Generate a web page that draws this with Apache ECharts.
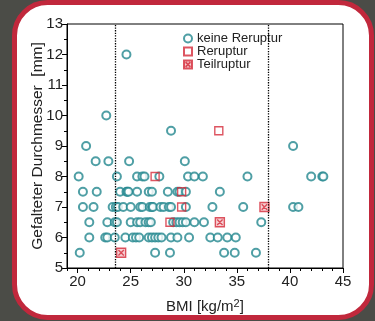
<!DOCTYPE html>
<html>
<head>
<meta charset="utf-8">
<script src="https://cdn.jsdelivr.net/npm/echarts@6/dist/echarts.min.js"></script>
<style>
    html, body { margin: 0; padding: 0; background: #4b4c47; }
    #chart { width: 375px; height: 321px; }
</style>
</head>
<body>
<div id="chart"></div>
<script>
// keine Reruptur (circles): BMI and diameter
var keineBMI = [
    24.6,
    22.7,
    28.8,
    20.8, 40.3,
    21.7, 22.9, 24.85, 30.1,
    20.1, 23.7, 25.6, 26.1, 26.3, 27.7, 30.4, 31.0, 31.8, 36.0, 42.0, 43.05, 43.15,
    20.5, 21.8, 24.0, 24.6, 24.7, 24.8, 25.6, 26.7, 27.0, 28.5, 29.4, 29.6, 30.2, 33.4,
    20.5, 21.5, 23.3, 23.6, 23.8, 24.3, 25.0, 25.9, 26.1, 26.8, 27.0, 27.1, 27.8, 28.1, 28.6, 28.8, 30.2, 32.7, 35.6, 40.3, 40.8,
    21.1, 22.8, 23.5, 23.7, 25.0, 25.6, 25.9, 26.4, 26.7, 26.9, 29.0, 29.3, 29.6, 29.9, 30.2, 31.0, 31.9, 37.3,
    21.1, 22.6, 22.8, 23.5, 24.5, 25.2, 25.5, 25.8, 26.7, 27.0, 27.3, 27.6, 27.9, 28.8, 29.4, 30.5, 32.5, 33.2, 34.1, 34.9,
    20.2, 27.3, 28.7, 33.8, 34.8, 36.8
];
var keineDurch = [
    12,
    10,
    9.5,
    9, 9,
    8.5, 8.5, 8.5, 8.5,
    8, 8, 8, 8, 8, 8, 8, 8, 8, 8, 8, 8, 8,
    7.5, 7.5, 7.5, 7.5, 7.5, 7.5, 7.5, 7.5, 7.5, 7.5, 7.5, 7.5, 7.5, 7.5,
    7, 7, 7, 7, 7, 7, 7, 7, 7, 7, 7, 7, 7, 7, 7, 7, 7, 7, 7, 7, 7,
    6.5, 6.5, 6.5, 6.5, 6.5, 6.5, 6.5, 6.5, 6.5, 6.5, 6.5, 6.5, 6.5, 6.5, 6.5, 6.5, 6.5, 6.5,
    6, 6, 6, 6, 6, 6, 6, 6, 6, 6, 6, 6, 6, 6, 6, 6, 6, 6, 6, 6,
    5.5, 5.5, 5.5, 5.5, 5.5, 5.5
];
// Reruptur (squares)
var rerupBMI = [33.3, 27.3, 29.8, 29.8, 28.7];
var rerupDurch = [9.5, 8, 7.5, 7, 6.5];
// Teilruptur (crossed squares)
var teilBMI = [37.6, 33.4, 24.1];
var teilDurch = [7, 6.5, 5.5];

var xTicks = [20, 25, 30, 35, 40, 45];
var bmiGrenzen = [23.5, 38];

function pairs(xs, ys) {
    return xs.map(function (x, i) { return [x, ys[i]]; });
}

var teal = '#23878f';
var red = '#d42a3a';
var crossBox = 'path://M0,0H10V10H0Z M2,2L8,8 M8,2L2,8';
var font = '"Liberation Sans", Arial, sans-serif';

var myChart = echarts.init(document.getElementById('chart'));
var option = {
    backgroundColor: '#4b4c47',
    animation: false,
    textStyle: { fontFamily: font },
    graphic: [
        {
            type: 'rect',
            z: -10,
            shape: { x: 14.5, y: 2.5, width: 357, height: 315, r: 33 },
            style: { fill: '#fff', stroke: '#c1283c', lineWidth: 5 }
        }
    ],
    grid: {
        left: 67,
        right: 32,
        top: 24,
        bottom: 53,
        show: true,
        borderColor: '#000',
        borderWidth: 1,
        backgroundColor: 'transparent'
    },
    legend: {
        orient: 'vertical',
        left: 183,
        top: 32,
        padding: 0,
        itemWidth: 8,
        itemHeight: 8,
        itemGap: 0,
        textStyle: { fontSize: 13, lineHeight: 12.5, color: '#222', fontFamily: font },
        data: [
            { name: 'keine Reruptur', icon: 'emptyCircle' },
            { name: 'Reruptur', icon: 'rect' },
            { name: 'Teilruptur', icon: crossBox }
        ]
    },
    xAxis: [
        {
            type: 'value',
            min: 19,
            max: 45,
            name: 'BMI [kg/m{s|2}]',
            nameLocation: 'middle',
            nameGap: 30,
            nameMoveOverlap: false,
            nameTextStyle: {
                fontSize: 15, color: '#222', fontFamily: font,
                rich: { s: { fontSize: 11, verticalAlign: 'top', color: '#222', padding: [0, 0, 6, 0] } }
            },
            axisLine: { show: true, onZero: false, lineStyle: { color: '#000', width: 1 } },
            axisTick: { show: true, customValues: xTicks, length: 5, lineStyle: { color: '#000' } },
            axisLabel: { customValues: xTicks, fontSize: 15, color: '#222', margin: 6, fontFamily: font },
            splitLine: { show: false }
        },
        {
            type: 'value',
            min: 19,
            max: 45,
            interval: 1,
            position: 'bottom',
            axisLine: { show: false },
            axisTick: { show: true, length: 3, lineStyle: { color: '#000' } },
            axisLabel: { show: false },
            splitLine: { show: false }
        }
    ],
    yAxis: {
        type: 'value',
        min: 5,
        max: 13,
        interval: 1,
        name: 'Gefalteter Durchmesser  [mm]',
        nameLocation: 'middle',
        nameGap: 21,
        nameMoveOverlap: false,
        nameTextStyle: { fontSize: 15.5, color: '#222', fontFamily: font },
        axisLine: { show: true, onZero: false, lineStyle: { color: '#000', width: 1 } },
        axisTick: { show: true, length: 5, lineStyle: { color: '#000' } },
        minorTick: { show: true, splitNumber: 2, length: 3, lineStyle: { color: '#000' } },
        axisLabel: { fontSize: 15, color: '#222', margin: 4, fontFamily: font },
        splitLine: { show: false }
    },
    series: [
        {
            name: 'keine Reruptur',
            type: 'scatter',
            symbol: 'emptyCircle',
            symbolSize: 8,
            itemStyle: { color: teal, borderColor: teal, borderWidth: 1.4 },
            data: pairs(keineBMI, keineDurch),
            markLine: {
                silent: true,
                symbol: 'none',
                label: { show: false },
                lineStyle: { color: '#000', type: 'dotted', width: 1.3 },
                data: bmiGrenzen.map(function (v) { return { xAxis: v }; })
            }
        },
        {
            name: 'Reruptur',
            type: 'scatter',
            symbol: 'rect',
            symbolSize: 8,
            itemStyle: { color: 'rgba(255,255,255,0)', borderColor: red, borderWidth: 1.4 },
            data: pairs(rerupBMI, rerupDurch)
        },
        {
            name: 'Teilruptur',
            type: 'scatter',
            symbol: crossBox,
            symbolSize: 9,
            itemStyle: { color: '#f4c4c8', borderColor: red, borderWidth: 1.4 },
            data: pairs(teilBMI, teilDurch)
        }
    ]
};
myChart.setOption(option);
</script>
</body>
</html>
